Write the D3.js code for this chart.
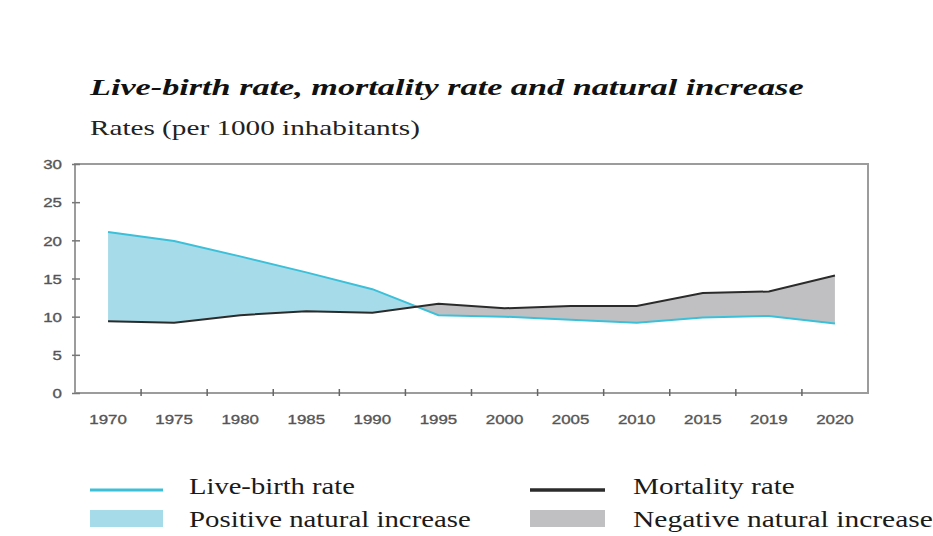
<!DOCTYPE html>
<html>
<head>
<meta charset="utf-8">
<script src="https://cdn.jsdelivr.net/npm/d3@7"></script>
<style>
  html, body { margin: 0; padding: 0; background: #fff; }
  svg { display: block; }
</style>
</head>
<body>
<svg id="chart" width="933" height="536"></svg>
<script>
// ---- data ----
const years = ["1970","1975","1980","1985","1990","1995","2000","2005","2010","2015","2019","2020"];
const birthRate = [21.1, 19.9, 17.9, 15.8, 13.6, 10.2, 10.0, 9.6, 9.2, 9.9, 10.1, 9.1];
const mortalityRate = [9.4, 9.2, 10.2, 10.7, 10.5, 11.7, 11.1, 11.4, 11.4, 13.1, 13.3, 15.4];
const yTicks = [0, 5, 10, 15, 20, 25, 30];
const titleText = "Live-birth rate, mortality rate and natural increase";
const subtitleText = "Rates (per 1000 inhabitants)";
const legendLabels = ["Live-birth rate", "Mortality rate", "Positive natural increase", "Negative natural increase"];

const colBirth = "#3cc0d8", colPos = "#a6dbea", colMort = "#2b2b2b", colNeg = "#c0c0c3";

const svg = d3.select("#chart");
const L = 75, R = 868, T = 164, B = 393;

const x = d3.scaleBand().domain(years).range([L, R]).padding(0);
const y = d3.scaleLinear().domain([0, 30]).range([B, T]);
const cx = d => x(d) + x.bandwidth() / 2;

const data = years.map((yr, i) => ({ yr, b: birthRate[i], m: mortalityRate[i] }));

function fit(sel, w) {
  const n = sel.node();
  const len = n.getComputedTextLength();
  const x0 = +sel.attr("x"), y0 = +sel.attr("y");
  const s = w / len;
  sel.attr("transform", `translate(${x0},${y0}) scale(${s},1) translate(${-x0},${-y0})`);
}

// titles
const serif = "'Liberation Serif', 'Times New Roman', serif";
fit(svg.append("text").attr("x", 90).attr("y", 95).text(titleText)
  .attr("font-family", serif).attr("font-size", 23).attr("font-weight", "bold")
  .attr("font-style", "italic").attr("fill", "#111"), 714);
fit(svg.append("text").attr("x", 90).attr("y", 135).text(subtitleText)
  .attr("font-family", serif).attr("font-size", 20).attr("fill", "#222"), 330);

// clip paths
const defs = svg.append("defs");
defs.append("clipPath").attr("id", "above").append("path")
  .attr("d", d3.area().x(d => cx(d.yr)).y0(0).y1(d => y(d.m))(data) );
defs.append("clipPath").attr("id", "below").append("path")
  .attr("d", d3.area().x(d => cx(d.yr)).y0(536).y1(d => y(d.m))(data) );

const band = d3.area().x(d => cx(d.yr)).y0(d => y(d.m)).y1(d => y(d.b));
svg.append("path").attr("d", band(data)).attr("fill", colPos).attr("clip-path", "url(#above)");
svg.append("path").attr("d", band(data)).attr("fill", colNeg).attr("clip-path", "url(#below)");

// frame
svg.append("rect").attr("x", L).attr("y", T).attr("width", R - L).attr("height", B - T)
  .attr("fill", "none").attr("stroke", "#9c9c9c").attr("stroke-width", 2);

// lines
const line = key => d3.line().x(d => cx(d.yr)).y(d => y(d[key]));
svg.append("path").attr("d", line("b")(data)).attr("fill", "none")
  .attr("stroke", colBirth).attr("stroke-width", 2);
svg.append("path").attr("d", line("m")(data)).attr("fill", "none")
  .attr("stroke", colMort).attr("stroke-width", 2);

// y axis
const sans = "'Liberation Sans', Arial, sans-serif";
const gy = svg.append("g").attr("transform", `translate(${L},0)`)
  .call(d3.axisLeft(y).tickValues(yTicks).tickSize(0).tickPadding(0));
gy.select(".domain").remove();
gy.selectAll("text").attr("font-family", sans).attr("font-size", 13.5)
  .attr("stroke", "#555").attr("stroke-width", 0.35)
  .attr("fill", "#555").attr("dy", "0.35em").attr("x", 0)
  .attr("transform", "translate(-13,0) scale(1.25,1)");
gy.selectAll(".tick").append("line").attr("x1", -3).attr("x2", 5)
  .attr("stroke", "#777").attr("stroke-width", 1.5);

// x axis
const gx = svg.append("g").attr("transform", `translate(0,${B})`)
  .call(d3.axisBottom(x).tickSize(0).tickPadding(0));
gx.select(".domain").remove();
gx.selectAll(".tick line").remove();
gx.selectAll("text").attr("font-family", sans).attr("font-size", 13.5)
  .attr("stroke", "#555").attr("stroke-width", 0.35)
  .attr("fill", "#555").attr("y", 31).attr("dy", 0)
  .attr("transform", "scale(1.25,1)");
gx.selectAll(".tick").append("line")
  .attr("x1", x.bandwidth() / 2).attr("x2", x.bandwidth() / 2).attr("y1", -4).attr("y2", 3)
  .attr("stroke", "#666").attr("stroke-width", 1.5)
  .filter((d, i) => i === years.length - 1).remove();

// legend
const lg = svg.append("g");
lg.append("line").attr("x1", 90).attr("x2", 163).attr("y1", 490).attr("y2", 490)
  .attr("stroke", colBirth).attr("stroke-width", 3);
lg.append("rect").attr("x", 90).attr("y", 510).attr("width", 73).attr("height", 17).attr("fill", colPos);
lg.append("line").attr("x1", 530).attr("x2", 605).attr("y1", 490).attr("y2", 490)
  .attr("stroke", colMort).attr("stroke-width", 3.5);
lg.append("rect").attr("x", 530).attr("y", 510).attr("width", 75).attr("height", 17).attr("fill", colNeg);
const legPos = [[189, 494, 166], [633, 494, 162], [189, 527, 282], [633, 527, 300]];
legendLabels.forEach((t, i) => {
  const [lx, ly, w] = legPos[i];
  fit(lg.append("text").attr("x", lx).attr("y", ly).text(t)
    .attr("font-family", serif).attr("font-size", 23).attr("fill", "#1a1a1a"), w);
});
</script>
</body>
</html>
